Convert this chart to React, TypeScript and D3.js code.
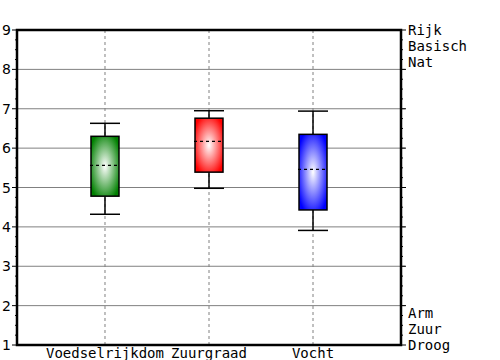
import React from "react";
import * as d3 from "d3";

const categories = ["Voedselrijkdom", "Zuurgraad", "Vocht"];
const whiskerLow = [4.32, 4.98, 3.91];
const q1 = [4.78, 5.39, 4.43];
const medians = [5.56, 6.17, 5.46];
const q3 = [6.3, 6.76, 6.35];
const whiskerHigh = [6.63, 6.95, 6.94];
const colors = ["#008000", "#ff0000", "#0000ff"];
const yTicks = [1, 2, 3, 4, 5, 6, 7, 8, 9];
const topLabels = ["Rijk", "Basisch", "Nat"];
const bottomLabels = ["Arm", "Zuur", "Droog"];

const W = 500;
const H = 360;
const left = 17;
const right = 401;
const top = 30;
const bottom = 345;

export default function App() {
  const x = d3.scalePoint<string>().domain(categories).range([left, right]).padding(0.846);
  const y = d3.scaleLinear().domain([1, 9]).range([bottom, top]);
  const minor = d3.range(1, 9.001, 0.25).filter((v) => Math.abs(v - Math.round(v)) > 0.01);
  const boxW = 28;
  const capW = 30;
  const mono = "'DejaVu Sans Mono', monospace";
  return (
    <svg width={W} height={H} style={{ position: "absolute", left: 0, top: 0 }}>
      <defs>
        {colors.map((c, i) => (
          <radialGradient key={i} id={`g${i}`} cx="0.5" cy="0.5" r="0.6">
            <stop offset="0" stopColor="#ffffff" />
            <stop offset="1" stopColor={c} />
          </radialGradient>
        ))}
      </defs>
      <rect x={0} y={0} width={W} height={H} fill="#fff" />
      {/* horizontal grid */}
      {yTicks.slice(1, -1).map((t) => (
        <line key={t} x1={left} x2={right + 4} y1={y(t)} y2={y(t)} stroke="#808080" strokeWidth={1} />
      ))}
      {/* vertical dashed grid */}
      {categories.map((c) => (
        <line key={c} x1={x(c)} x2={x(c)} y1={top} y2={bottom} stroke="#808080" strokeWidth={1} strokeDasharray="3,3" />
      ))}
      {/* left ticks */}
      {yTicks.map((t) => (
        <line key={"lt" + t} x1={left - 5} x2={left} y1={y(t)} y2={y(t)} stroke="#000" strokeWidth={1} />
      ))}
      {minor.map((t) => (
        <line key={"lm" + t} x1={left - 2} x2={left} y1={y(t)} y2={y(t)} stroke="#000" strokeWidth={1} />
      ))}
      {/* right ticks */}
      {yTicks.map((t) => (
        <line key={"rt" + t} x1={right} x2={right + 5} y1={y(t)} y2={y(t)} stroke="#000" strokeWidth={1} />
      ))}
      {minor.map((t) => (
        <line key={"rm" + t} x1={right} x2={right + 2} y1={y(t)} y2={y(t)} stroke="#000" strokeWidth={1} />
      ))}
      {/* boxes */}
      {categories.map((c, i) => {
        const cx = x(c)!;
        return (
          <g key={"b" + c}>
            <line x1={cx} x2={cx} y1={y(whiskerHigh[i])} y2={y(q3[i])} stroke="#000" strokeWidth={1.5} />
            <line x1={cx} x2={cx} y1={y(q1[i])} y2={y(whiskerLow[i])} stroke="#000" strokeWidth={1.5} />
            <line x1={cx - capW / 2} x2={cx + capW / 2} y1={y(whiskerHigh[i])} y2={y(whiskerHigh[i])} stroke="#000" strokeWidth={1.5} />
            <line x1={cx - capW / 2} x2={cx + capW / 2} y1={y(whiskerLow[i])} y2={y(whiskerLow[i])} stroke="#000" strokeWidth={1.5} />
            <rect x={cx - boxW / 2} y={y(q3[i])} width={boxW} height={y(q1[i]) - y(q3[i])} fill={`url(#g${i})`} stroke="#000" strokeWidth={1.5} />
            <line x1={cx - boxW / 2 - 1} x2={cx + boxW / 2} y1={y(medians[i])} y2={y(medians[i])} stroke="#000" strokeWidth={1.2} strokeDasharray="3,3" />
          </g>
        );
      })}
      {/* frame */}
      <rect x={left} y={top} width={right - left} height={bottom - top} fill="none" stroke="#000" strokeWidth={2.5} />
      {/* left labels */}
      {yTicks.map((t) => (
        <text key={"ll" + t} x={11} y={y(t)} dy="0.36em" textAnchor="end" fontFamily="'DejaVu Sans', sans-serif" fontSize={14} fill="#000">
          {t}
        </text>
      ))}
      {/* right labels */}
      {topLabels.map((l, i) => (
        <text key={"tl" + l} x={408} y={y(9) + i * 16} dy="0.36em" fontFamily={mono} fontSize={14} fill="#000">
          {l}
        </text>
      ))}
      {bottomLabels.map((l, i) => (
        <text key={"bl" + l} x={408} y={y(1) - (bottomLabels.length - 1 - i) * 16} dy="0.36em" fontFamily={mono} fontSize={14} fill="#000">
          {l}
        </text>
      ))}
      {/* category labels */}
      {categories.map((c) => (
        <text key={"c" + c} x={x(c)} y={bottom + 8} dy="0.36em" textAnchor="middle" fontFamily={mono} fontSize={14} fill="#000">
          {c}
        </text>
      ))}
    </svg>
  );
}
